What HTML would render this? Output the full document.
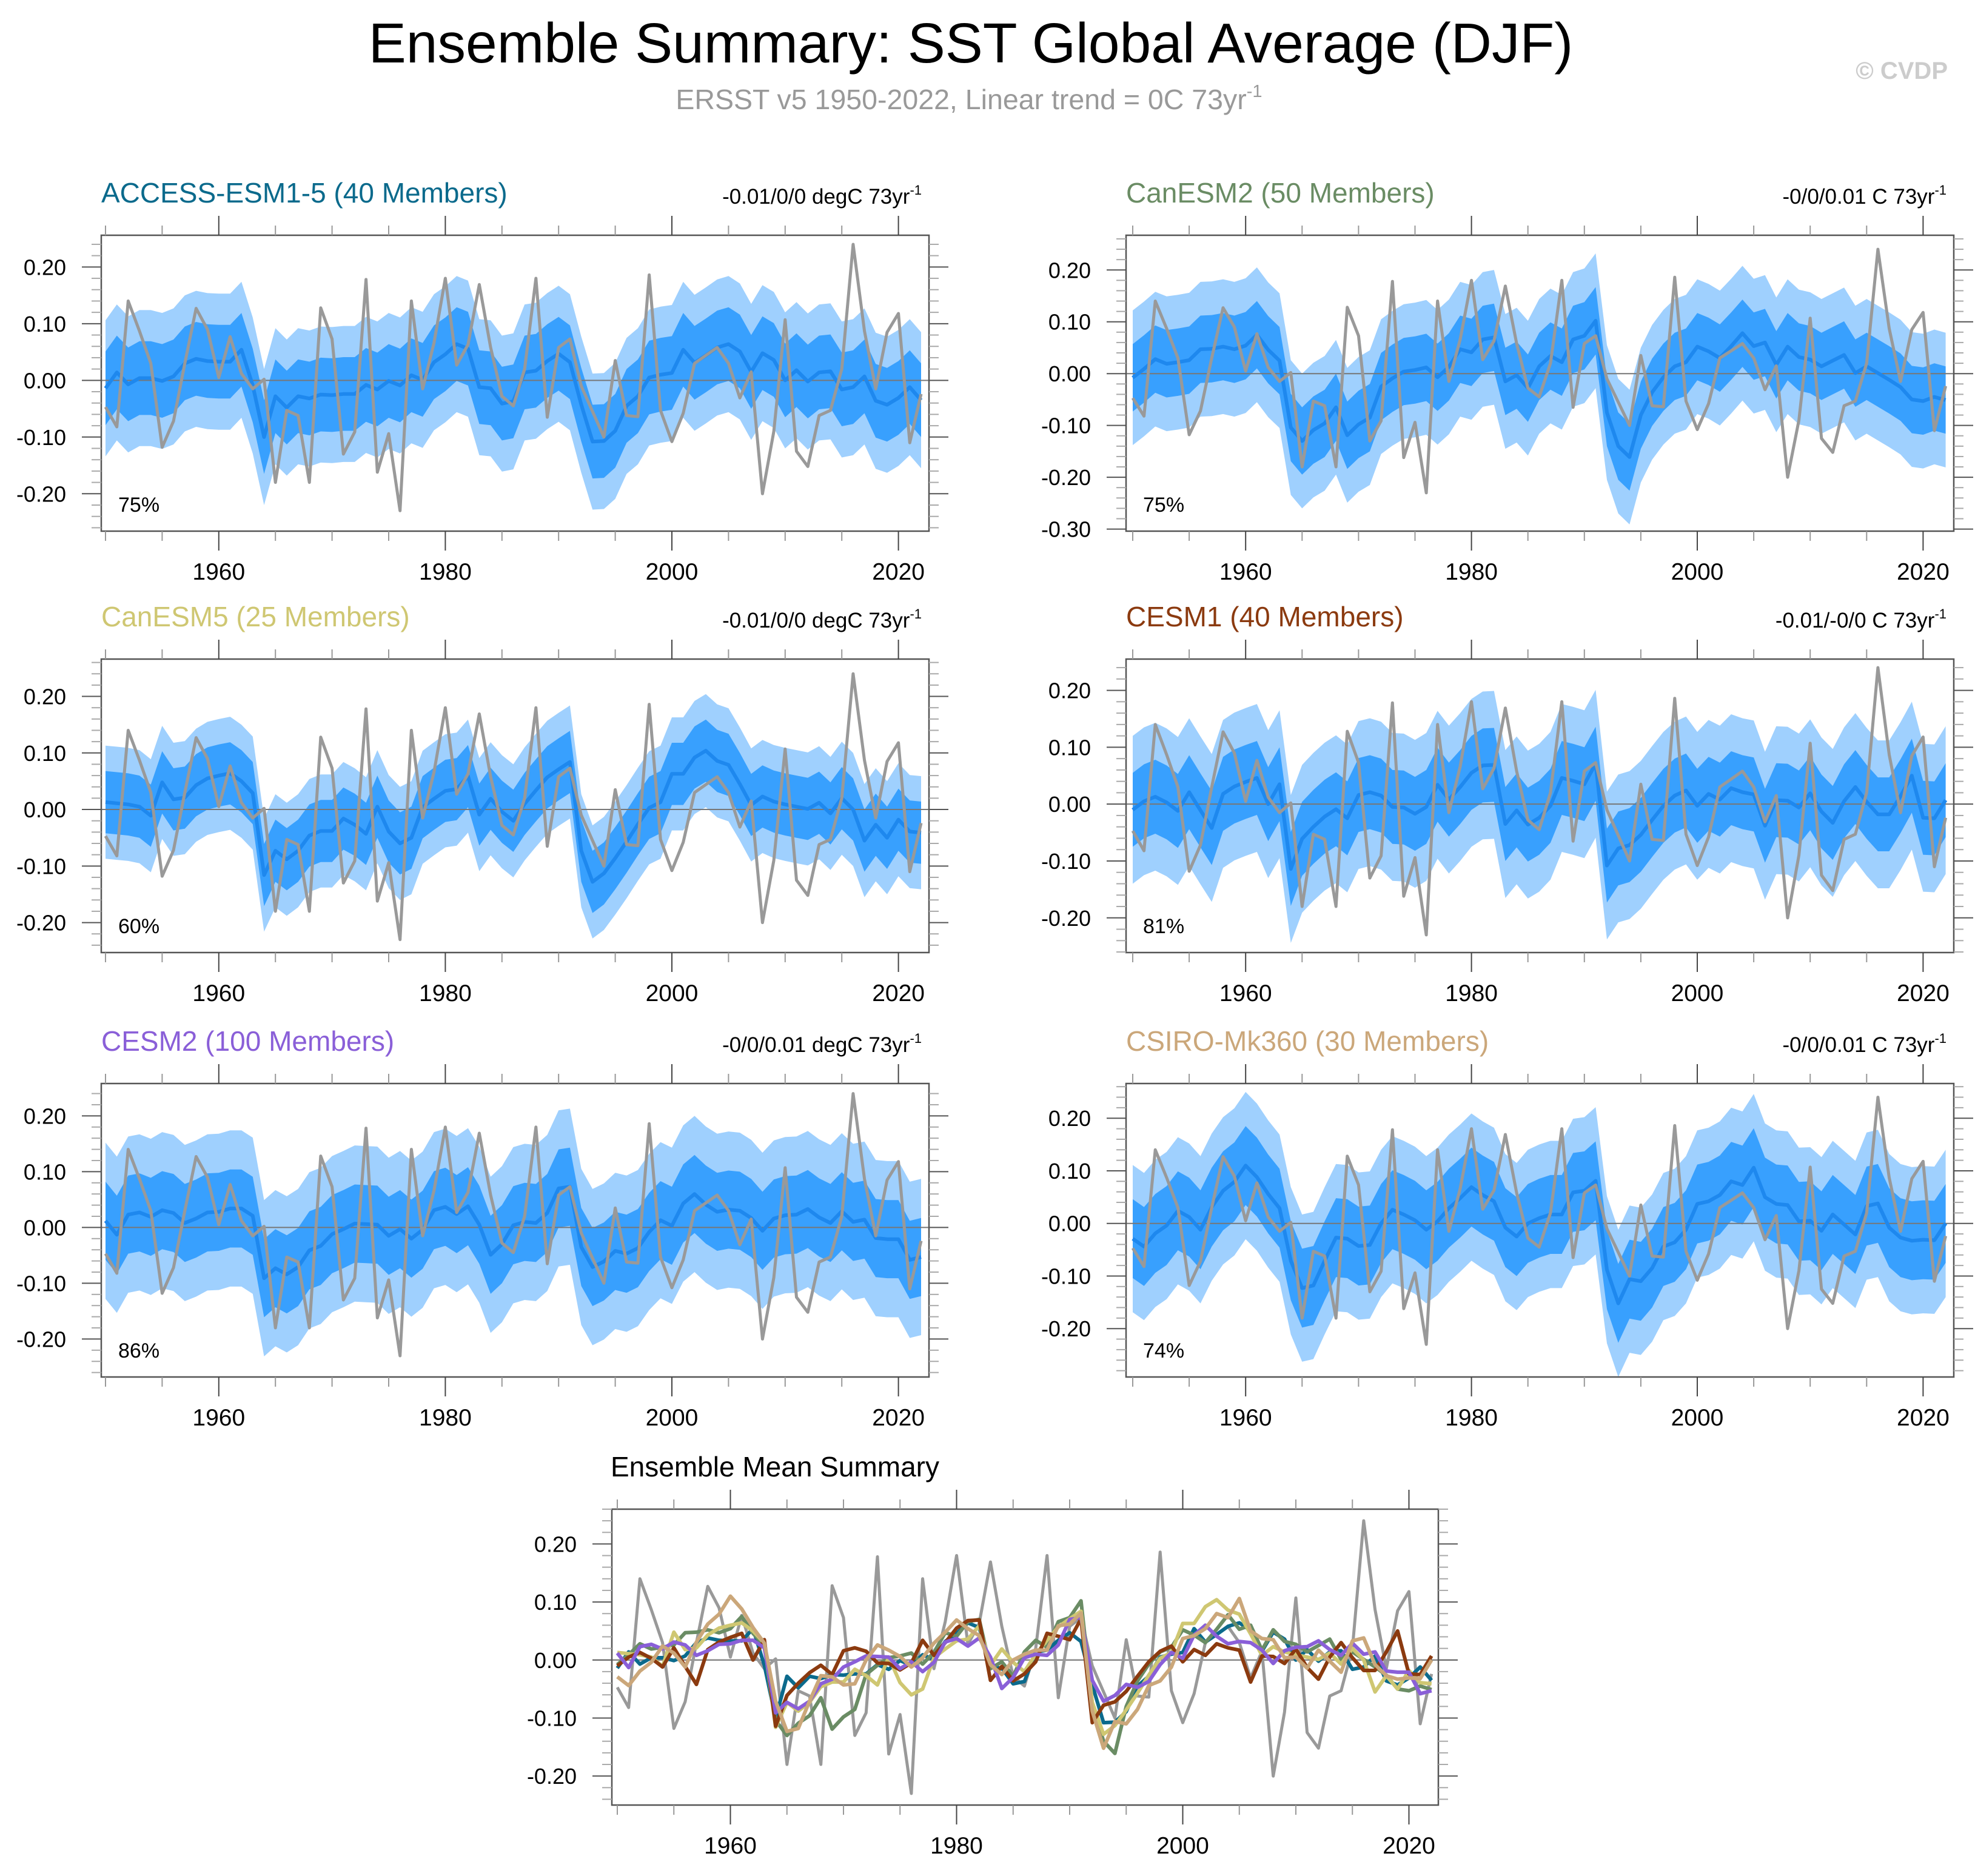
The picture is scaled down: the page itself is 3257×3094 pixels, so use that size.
<!DOCTYPE html>
<html><head><meta charset="utf-8"><title>Ensemble Summary: SST Global Average (DJF)</title>
<style>
html,body{margin:0;padding:0;background:#fff;}
svg{display:block;font-family:"Liberation Sans",Arial,sans-serif;}
</style></head>
<body>
<svg id="chart" xmlns="http://www.w3.org/2000/svg" width="3257" height="3094" viewBox="0 0 3257 3094">
<rect x="0" y="0" width="3257" height="3094" fill="#fff"/>
<text x="1601" y="103" font-size="93" text-anchor="middle" fill="#000">Ensemble Summary: SST Global Average (DJF)</text>
<text x="1598" y="180" font-size="46.5" text-anchor="middle" fill="#999">ERSST v5 1950-2022, Linear trend = 0C 73yr<tspan font-size="29" dy="-20">-1</tspan></text>
<text x="3212" y="130" font-size="40" font-weight="bold" text-anchor="end" fill="#ccc">© CVDP</text>
</svg>
<script>
const obs = [-0.047,-0.082,0.14,0.087,0.03,-0.118,-0.072,0.03,0.127,0.09,
0.005,0.077,0.012,-0.015,0.002,-0.18,-0.053,-0.062,-0.18,0.128,
0.073,-0.13,-0.091,0.178,-0.162,-0.094,-0.23,0.14,-0.015,0.066,
0.18,0.027,0.063,0.169,0.058,-0.028,-0.045,0.02,0.18,-0.065,
0.058,0.073,-0.01,-0.055,-0.1,0.035,-0.062,-0.064,0.186,-0.053,
-0.108,-0.058,0.03,0.044,0.058,0.03,-0.031,0.015,-0.2,-0.09,
0.107,-0.125,-0.152,-0.062,-0.053,0.02,0.24,0.087,-0.015,0.085,
0.118,-0.11,-0.024];
const meanAccess = [-0.014,0.014,-0.007,0.004,0.004,-0.001,0.007,0.03,0.038,0.034,
0.033,0.033,0.054,-0.009,-0.1,-0.028,-0.048,-0.028,-0.032,-0.025,
-0.026,-0.024,-0.024,-0.008,-0.016,-0.001,-0.009,0.009,0.001,0.032,
0.046,0.064,0.056,-0.012,-0.014,-0.041,-0.037,0.014,0.017,0.034,
0.047,0.032,-0.043,-0.108,-0.107,-0.089,-0.045,-0.028,0.005,0.01,
0.013,0.054,0.031,0.044,0.058,0.064,0.051,0.015,0.048,0.036,
0,0.018,-0.002,0.014,0.016,-0.016,-0.012,0.007,-0.036,-0.043,
-0.031,-0.012,-0.035];
const meanCanESM2 = [-0.008,0.009,0.028,0.019,0.022,0.026,0.047,0.048,0.052,0.047,
0.054,0.075,0.046,0.025,-0.104,-0.13,-0.109,-0.096,-0.065,-0.119,
-0.098,-0.085,-0.025,-0.009,0.004,0.007,0.012,-0.007,0.013,0.047,
0.041,0.066,0.07,-0.015,-0.003,-0.028,0.014,0.034,0.022,0.066,
0.073,0.102,-0.075,-0.14,-0.161,-0.08,-0.036,-0.007,0.014,0.022,
0.052,0.043,0.03,0.053,0.078,0.053,0.06,0.017,0.052,0.032,
0.027,0.014,0.025,0.036,0.001,0.014,0.001,-0.012,-0.026,-0.05,
-0.053,-0.045,-0.051];
const meanCanESM5 = [0.013,0.011,0.009,0.005,-0.011,0.048,0.018,0.021,0.043,0.055,
0.06,0.064,0.05,0.029,-0.116,-0.073,-0.088,-0.073,-0.046,-0.038,
-0.038,-0.016,-0.027,-0.043,0.005,-0.039,-0.06,-0.05,0.004,0.019,
0.033,0.036,0.059,-0.009,0.019,-0.004,-0.02,0.01,0.034,0.057,
0.071,0.084,-0.073,-0.128,-0.113,-0.086,-0.057,-0.026,0.003,0.013,
0.063,0.063,0.092,0.104,0.086,0.079,0.045,0.008,0.023,0.014,
0.009,0.005,0.001,0.012,-0.007,0.02,0,-0.055,-0.027,-0.05,
-0.018,-0.039,-0.041];
const meanCESM1 = [-0.01,0.005,0.013,0.003,-0.012,0.021,-0.011,-0.042,0.018,0.031,
0.039,0.046,0,0.035,-0.114,-0.061,-0.04,-0.022,-0.009,-0.025,
0.016,0.021,0.015,-0.005,-0.006,-0.017,-0.005,0.034,0.008,0.03,
0.055,0.068,0.069,-0.035,-0.011,-0.036,-0.024,-0.003,0.046,0.041,
0.035,0.071,-0.108,-0.078,-0.072,-0.054,-0.028,-0.003,0.015,0.024,
-0.003,0.018,0.008,0.028,0.021,0.017,-0.038,0.007,0.006,-0.006,
0.019,-0.013,-0.033,0.005,0.03,0.004,-0.018,-0.018,0.014,0.05,
-0.024,-0.025,0.007];
const meanCESM2 = [0.012,-0.013,0.023,0.027,0.019,0.031,0.026,0.008,0.016,0.027,
0.028,0.034,0.034,0.021,-0.091,-0.073,-0.084,-0.071,-0.041,-0.033,
-0.012,-0.003,0.007,0.006,0.005,-0.015,-0.003,-0.02,-0.004,0.031,
0.037,0.024,0.038,0.005,-0.049,-0.03,0.004,0.01,0.008,0.026,
0.07,0.073,-0.035,-0.071,-0.061,-0.042,-0.047,-0.037,-0.008,0.013,
0.003,0.043,0.06,0.041,0.028,0.032,0.03,0.017,-0.006,0.016,
0.022,0.023,0.033,0.018,0.008,0.029,0.01,0.014,-0.019,-0.021,
-0.021,-0.058,-0.053];
const meanCSIRO = [-0.029,-0.044,-0.019,-0.004,0.024,0.012,-0.012,0.031,0.062,0.079,
0.11,0.088,0.056,0.029,-0.071,-0.123,-0.118,-0.071,-0.027,-0.029,
-0.043,-0.041,0,0.026,0.017,0.006,-0.012,0.004,0.029,0.048,
0.069,0.054,0.042,-0.008,-0.025,0,0.01,0.017,0.017,0.059,
0.062,0.081,-0.088,-0.152,-0.106,-0.11,-0.085,-0.044,-0.036,-0.012,
0.037,0.042,0.054,0.08,0.073,0.106,0.05,0.037,0.035,0.004,
0.005,-0.014,0.017,-0.002,-0.021,0.033,0.038,-0.008,-0.027,-0.033,
-0.031,-0.032,0];
const modelNames = ["ACCESS-ESM1-5 (40 Members)","CanESM2 (50 Members)","CanESM5 (25 Members)","CESM1 (40 Members)","CESM2 (100 Members)","CSIRO-Mk360 (30 Members)"];
const trendLabels = ["-0.01/0/0 degC 73yr","-0/0/0.01 C 73yr","-0.01/0/0 degC 73yr","-0.01/-0/0 C 73yr","-0/0/0.01 degC 73yr","-0/0/0.01 C 73yr"];
const pctLabels = ["75%","75%","60%","81%","86%","74%"];
const innerSpread = [0.065,0.065,0.055,0.065,0.07,0.075];
const outerSpread = [0.12,0.13,0.1,0.13,0.14,0.14];
const yTickLabels = [0.2,0.1,0,-0.1,-0.2];
const yTickLabelsCan2 = [0.2,0.1,0,-0.1,-0.2,-0.3];
const xTickYears = [1960,1980,2000,2020];
const firstYear = 1950;

const NS = "http://www.w3.org/2000/svg";
const svg = document.getElementById("chart");
const modelColors = ["#0b6a8c","#6a8c64","#cfc772","#8b3a0f","#8a5fd8","#cba77a"];
const means = [meanAccess,meanCanESM2,meanCanESM5,meanCESM1,meanCESM2,meanCSIRO];
const slugs = ["access-esm1-5","canesm2","canesm5","cesm1","cesm2","csiro-mk360"];

const panels = [
 {L:167,R:1532,T:388,B:876,x0:174,dx:18.68,ymax:0.256,ymin:-0.266},
 {L:1857,R:3222,T:388,B:876,x0:1868,dx:18.62,ymax:0.267,ymin:-0.304},
 {L:167,R:1532,T:1087,B:1571,x0:174,dx:18.68,ymax:0.266,ymin:-0.253},
 {L:1857,R:3222,T:1087,B:1571,x0:1868,dx:18.62,ymax:0.255,ymin:-0.261},
 {L:167,R:1532,T:1787,B:2271,x0:174,dx:18.68,ymax:0.258,ymin:-0.268},
 {L:1857,R:3222,T:1787,B:2271,x0:1868,dx:18.62,ymax:0.266,ymin:-0.292}
];
const summary = {L:1009,R:2372,T:2489,B:2977,x0:1018,dx:18.65,ymax:0.26,ymin:-0.25};

function el(tag, attrs, parent){
  const e = document.createElementNS(NS, tag);
  for (const k in attrs) e.setAttribute(k, attrs[k]);
  (parent||svg).appendChild(e);
  return e;
}
function xs(p, i){ return p.x0 + p.dx * i; }
function ys(p, v){ return p.T + (p.ymax - v) / (p.ymax - p.ymin) * (p.B - p.T); }
function xYear(p, yr){ return p.x0 + p.dx * (yr - firstYear); }

function drawAxes(g, p, labels){
  const box = el("rect",{x:p.L,y:p.T,width:p.R-p.L,height:p.B-p.T,fill:"none",stroke:"#555","stroke-width":2.5},g);
  
  
  for (let yr = 1950; yr <= 2020; yr += 5){
    const x = xYear(p, yr);
    const major = (yr % 20 === 0);
    const len = major ? 32 : 16;
    el("line",{x1:x,y1:p.T,x2:x,y2:p.T-len,stroke:major?"#444":"#999","stroke-width":2},g);
    el("line",{x1:x,y1:p.B,x2:x,y2:p.B+len,stroke:major?"#444":"#999","stroke-width":2},g);
  }
  for (let k = Math.ceil(p.ymin*50); k <= Math.floor(p.ymax*50); k++){
    const v = k/50;
    const y = ys(p, v);
    const major = (k % 5 === 0);
    const len = major ? 32 : 16;
    el("line",{x1:p.L,y1:y,x2:p.L-len,y2:y,stroke:major?"#555":"#aaa","stroke-width":2},g);
    el("line",{x1:p.R,y1:y,x2:p.R+len,y2:y,stroke:major?"#555":"#aaa","stroke-width":2},g);
  }
  labels.forEach(v=>{
    const t = el("text",{x:p.L-58,y:ys(p,v)+13,"font-size":36,"text-anchor":"end",fill:"#000"},g);
    t.textContent = v.toFixed(2);
    
    
  });
  xTickYears.forEach(yr=>{
    const t = el("text",{x:xYear(p,yr),y:p.B+80,"font-size":39,"text-anchor":"middle",fill:"#000"},g);
    t.textContent = String(yr);
    
    
  });
}
function linePath(p, arr){
  return arr.map((v,i)=>(i?"L":"M")+xs(p,i).toFixed(1)+" "+ys(p,v).toFixed(1)).join(" ");
}
function bandPath(p, arr, s){
  let d = arr.map((v,i)=>(i?"L":"M")+xs(p,i).toFixed(1)+" "+ys(p,v+s).toFixed(1)).join(" ");
  for (let i = arr.length-1; i >= 0; i--) d += " L"+xs(p,i).toFixed(1)+" "+ys(p,arr[i]-s).toFixed(1);
  return d + " Z";
}

panels.forEach((p, m)=>{
  const g = el("g",{});
  
  
  const outer = el("path",{d:bandPath(p,means[m],outerSpread[m]),fill:"#9fd0fe",stroke:"none"},g);
  
  
  const inner = el("path",{d:bandPath(p,means[m],innerSpread[m]),fill:"#38a0fe",stroke:"none"},g);
  
  
  const zl = el("line",{x1:p.L,y1:ys(p,0),x2:p.R,y2:ys(p,0),stroke:"#777","stroke-width":2},g);
  
  
  const ml = el("path",{d:linePath(p,means[m]),fill:"none",stroke:"#1e88ee","stroke-width":6,"stroke-linejoin":"round"},g);
  
  
  const ol = el("path",{d:linePath(p,obs),fill:"none",stroke:"#999","stroke-width":5,"stroke-linejoin":"round"},g);
  
  
  drawAxes(g, p, m===1 ? yTickLabelsCan2 : yTickLabels);
  const title = el("text",{x:p.L,y:p.T-54,"font-size":46,fill:modelColors[m]},g);
  title.textContent = modelNames[m];
  
  
  const tr = el("text",{x:p.R-12,y:p.T-52,"font-size":35,"text-anchor":"end",fill:"#000"},g);
  tr.textContent = trendLabels[m];
  const sup = el("tspan",{"font-size":22,dy:-15},tr);
  sup.textContent = "-1";
  
  
  const pc = el("text",{x:p.L+28,y:p.B-32,"font-size":34,fill:"#000"},g);
  pc.textContent = pctLabels[m];
  
  
});

(function(){
  const p = summary;
  const g = el("g",{});
  
  
  const zl = el("line",{x1:p.L,y1:ys(p,0),x2:p.R,y2:ys(p,0),stroke:"#888","stroke-width":2.5},g);
  
  
  const ol = el("path",{d:linePath(p,obs),fill:"none",stroke:"#999","stroke-width":5,"stroke-linejoin":"round"},g);
  
  
  means.forEach((arr,m)=>{
    const l = el("path",{d:linePath(p,arr),fill:"none",stroke:modelColors[m],"stroke-width":6,"stroke-linejoin":"round"},g);
    
    
  });
  drawAxes(g, p, yTickLabels);
  const t = el("text",{x:p.L-2,y:p.T-54,"font-size":46,fill:"#000"},g);
  t.textContent = "Ensemble Mean Summary";
  
  
})();
</script>
</body></html>
